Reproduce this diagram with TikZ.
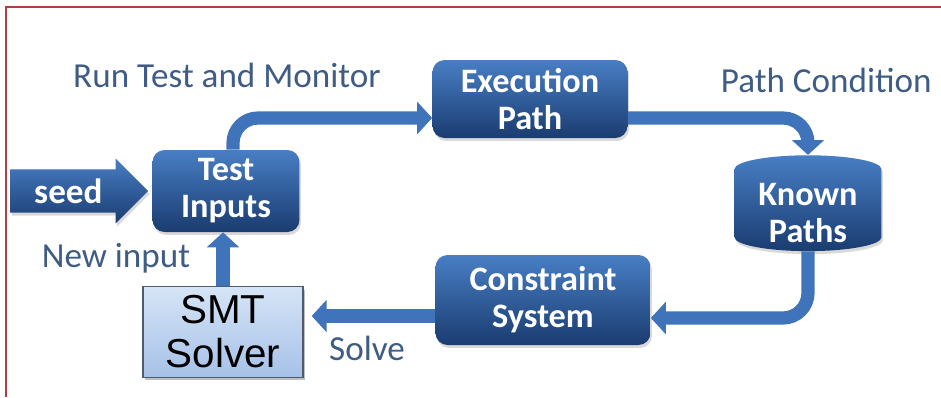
\documentclass[tikz,border=0pt]{standalone}
\usepackage{fontspec}
\setmainfont{Carlito}
\newfontfamily\solverfont{Liberation Sans}
\usetikzlibrary{positioning,arrows.meta,shapes.geometric,shapes.arrows,shadows}

\definecolor{boxtop}{RGB}{72,126,196}
\definecolor{boxbot}{RGB}{26,60,112}
\definecolor{flowblue}{RGB}{64,116,186}
\definecolor{labelblue}{RGB}{62,92,132}
\definecolor{framered}{RGB}{176,64,64}
\definecolor{solvertop}{RGB}{214,228,246}
\definecolor{solverbot}{RGB}{166,193,232}

\tikzset{
    shaded/.style={top color=boxtop, bottom color=boxbot, text=white,
        font=\fontsize{19.5}{21}\selectfont\bfseries, align=center,
        drop shadow={opacity=0.3, shadow xshift=0.03cm, shadow yshift=-0.06cm}},
    stage/.style={shaded, rounded corners=0.24cm},
    store/.style={shaded, cylinder, shape border rotate=90, aspect=0.25, inner ysep=0pt},
    solver/.style={draw={rgb,255:red,80;green,90;blue,110}, line width=0.8pt,
        top color=solvertop, bottom color=solverbot, text=black, align=center,
        font=\solverfont\fontsize{23}{25}\selectfont,
        drop shadow={opacity=0.5, shadow xshift=0.04cm, shadow yshift=-0.06cm}},
    seedarrow/.style={shaded, single arrow, single arrow head extend=0.22cm,
        minimum height=2.76cm, inner ysep=5pt, font=\fontsize{20}{22}\selectfont\bfseries},
    flow/.style={draw=flowblue, line width=7.5pt, rounded corners=0.5cm,
        -{Triangle[width=18pt,length=8.5pt]}},
    caption/.style={text=labelblue, font=\fontsize{20}{22}\selectfont},
}

\begin{document}
\begin{tikzpicture}[x=0.02cm, y=-0.02cm]
    \useasboundingbox (0,0) rectangle (941,397);

    % page frame
    \draw[framered, line width=1pt] (6,397) -- (6,7) -- (941,7);

    \node[stage, minimum width=2.94cm, minimum height=1.64cm] (ti) at (226,191) {Test\\Inputs};
    \node[stage, minimum width=3.9cm, minimum height=1.56cm] (ep) at (530,99) {Execution\\Path};
    \node[store, minimum width=2.94cm, minimum height=1.88cm] (kp) at (808,213) {Known\\Paths};
    \node[stage, minimum width=4.3cm, minimum height=1.8cm] (cs) at (543,300) {Constraint\\System};
    \node[solver, minimum width=3.2cm, minimum height=1.82cm] (smt) at (223,332) {SMT\\Solver};

    \node[seedarrow, anchor=tip] (seed) at ([xshift=-2pt]ti.west) {seed};

    % the loop
    \draw[flow] ([xshift=0.14cm]ti.north) |- ([yshift=-0.38cm]ep.west);
    \draw[flow] ([yshift=-0.38cm]ep.east) -| (kp.north);
    \draw[flow] (kp.south) |- ([yshift=-0.36cm]cs.east);
    \draw[flow] ([yshift=-0.32cm]cs.west) -- ([yshift=-0.32cm,xshift=0.16cm]cs.west -| smt.east);
    \draw[flow] (smt.north) -- (smt.north |- ti.south);

    \node[caption] (run) at (227,75) {Run Test and Monitor};
    \node[caption, anchor=east] (cond) at (938,80) {Path Condition};
    \node[caption] (newin) at (116,258) {New input};
    \node[caption] (solve) at (367,348) {Solve};
\end{tikzpicture}
\end{document}
